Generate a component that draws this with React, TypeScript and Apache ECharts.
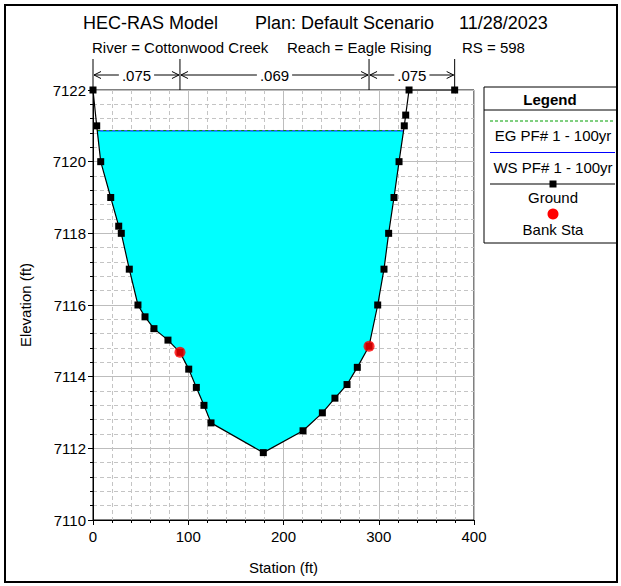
import React, { useEffect, useRef } from "react";
import * as echarts from "echarts";

// ---- data ----
const groundStation = [0, 3.9, 8.1, 18.6, 27, 29.7, 38.1, 47.2, 54.6, 64, 78.7, 91.3, 100.5, 108.5, 116.5, 123.9, 178.8, 220.5, 240.8, 254, 266.7, 277.5, 289.8, 298.9, 305.5, 310.4, 316, 321.3, 326.8, 328.3, 331.8, 379.7];
const groundElev = [7122, 7121, 7120, 7119, 7118.2, 7118, 7117, 7116, 7115.67, 7115.34, 7115.02, 7114.68, 7114.21, 7113.7, 7113.2, 7112.71, 7111.88, 7112.49, 7112.99, 7113.4, 7113.78, 7114.26, 7114.85, 7116, 7117, 7118, 7119, 7120, 7121, 7121.3, 7122, 7122];
const bankStation = [91.3, 289.8];
const bankElev = [7114.68, 7114.85];
const wsElev = 7120.86;
const egElev = 7120.87;
const nBreaks = [0, 91.3, 289.8, 379.7];
const nValues = [".075", ".069", ".075"];
const xTicks = { min: 0, max: 400, interval: 100 };
const yTicks = { min: 7110, max: 7122, interval: 2 };

const FONT = "'Liberation Sans', Arial, Helvetica, sans-serif";

function waterPolygon(level: number): number[][] {
  const pts: number[][] = [];
  const n = groundStation.length;
  let started = false;
  for (let i = 0; i < n - 1; i++) {
    const x1 = groundStation[i], y1 = groundElev[i];
    const x2 = groundStation[i + 1], y2 = groundElev[i + 1];
    if (!started && y1 >= level && y2 < level) {
      pts.push([x1 + ((y1 - level) / (y1 - y2)) * (x2 - x1), level]);
      started = true;
    }
    if (started && y2 < level) pts.push([x2, y2]);
    if (started && y1 < level && y2 >= level) {
      pts.push([x1 + ((level - y1) / (y2 - y1)) * (x2 - x1), level]);
      break;
    }
  }
  return pts;
}

export default function App() {
  const ref = useRef<HTMLDivElement>(null);
  useEffect(() => {
    document.body.style.margin = "0";
    const chart = echarts.init(ref.current!, null, { renderer: "svg" });
    const poly = waterPolygon(wsElev);
    const wl = poly[0][0];
    const wr = poly[poly.length - 1][0];
    const ground = groundStation.map((x, i) => [x, groundElev[i]]);
    const banks = bankStation.map((x, i) => [x, bankElev[i]]);

    const axisCommon = {
      axisLine: { show: true, lineStyle: { color: "#000", width: 1 } },
      axisTick: { show: true, length: 5, lineStyle: { color: "#000" } },
      minorTick: { show: true, splitNumber: 5, length: 3, lineStyle: { color: "#000" } },
      splitLine: { show: true, lineStyle: { color: "#bdbdbd", width: 1 } },
      minorSplitLine: { show: true, lineStyle: { color: "#c4c4c4", type: [4, 3], width: 1 } },
      nameTextStyle: { color: "#000", fontSize: 15, fontFamily: FONT },
    };
    const labelStyle = { color: "#000", fontSize: 15, fontFamily: FONT, formatter: (v: number) => String(v) };

    chart.setOption({
      animation: false,
      backgroundColor: "#fff",
      grid: { left: 93, right: 147, top: 90, bottom: 66, show: true, borderColor: "#000", borderWidth: 1 },
      xAxis: {
        type: "value",
        ...xTicks,
        name: "Station (ft)",
        nameLocation: "middle",
        nameGap: 40,
        ...axisCommon,
        axisLabel: { ...labelStyle, margin: 9 },
      },
      yAxis: {
        type: "value",
        ...yTicks,
        name: "Elevation (ft)",
        nameLocation: "middle",
        nameGap: 60,
        ...axisCommon,
        axisLabel: { ...labelStyle, margin: 7 },
      },
      series: [
        {
          type: "custom",
          name: "water",
          silent: true,
          z: 1,
          data: [[0, yTicks.min]],
          renderItem: (_params: any, api: any) => ({
            type: "polygon",
            shape: { points: poly.map((p) => api.coord(p)) },
            style: { fill: "#00FFFF" },
          }),
        },
        {
          type: "line",
          name: "WS PF# 1 - 100yr",
          data: [[wl, wsElev], [wr, wsElev]],
          symbol: "none",
          lineStyle: { color: "#0000FF", width: 1 },
          z: 2,
          silent: true,
        },
        {
          type: "line",
          name: "EG PF# 1 - 100yr",
          data: [[wl, egElev], [wr, egElev]],
          symbol: "none",
          lineStyle: { color: "#00A000", width: 1, type: [3, 3] },
          z: 2,
          silent: true,
        },
        {
          type: "line",
          name: "Ground",
          data: ground,
          symbol: "rect",
          symbolSize: 7,
          itemStyle: { color: "#000" },
          lineStyle: { color: "#000", width: 1.2 },
          z: 3,
          silent: true,
        },
        {
          type: "scatter",
          name: "Bank Sta",
          data: banks,
          symbol: "circle",
          symbolSize: 11,
          itemStyle: { color: "#FF0000" },
          z: 4,
          silent: true,
        },
      ],
    });

    // annotations above plot
    const top = (chart.convertToPixel({ gridIndex: 0 }, [0, yTicks.max]) as number[])[1];
    const px = nBreaks.map((s) => (chart.convertToPixel({ gridIndex: 0 }, [s, yTicks.max]) as number[])[0]);
    const ctx = document.createElement("canvas").getContext("2d")!;
    ctx.font = "15px " + FONT;
    const ay = top - 15;
    const g: any[] = [];
    px.forEach((x) => {
      g.push({ type: "line", shape: { x1: x, y1: top - 31, x2: x, y2: top }, style: { stroke: "#000", lineWidth: 1 } });
    });
    nValues.forEach((v, i) => {
      const xa = px[i], xb = px[i + 1];
      const mid = (xa + xb) / 2;
      const tw = ctx.measureText(v).width;
      g.push({ type: "text", x: mid, y: ay, style: { text: v, fontSize: 15, fontFamily: FONT, fill: "#000", align: "center", verticalAlign: "middle" } });
      g.push({ type: "line", shape: { x1: xa + 1, y1: ay, x2: mid - tw / 2 - 3, y2: ay }, style: { stroke: "#000", lineWidth: 1 } });
      g.push({ type: "line", shape: { x1: mid + tw / 2 + 3, y1: ay, x2: xb - 1, y2: ay }, style: { stroke: "#000", lineWidth: 1 } });
      g.push({ type: "polyline", shape: { points: [[xa + 8, ay - 3.5], [xa + 1, ay], [xa + 8, ay + 3.5]] }, style: { stroke: "#000", lineWidth: 1, fill: "none" } });
      g.push({ type: "polyline", shape: { points: [[xb - 8, ay - 3.5], [xb - 1, ay], [xb - 8, ay + 3.5]] }, style: { stroke: "#000", lineWidth: 1, fill: "none" } });
    });

    const txt = (text: string, x: number, y: number, size: number, align = "left", weight = "normal") => ({
      type: "text",
      x,
      y,
      style: { text, fontSize: size, fontFamily: FONT, fill: "#000", align, verticalAlign: "middle", fontWeight: weight },
    });

    // titles
    g.push(txt("HEC-RAS Model", 83, 23, 18));
    g.push(txt("Plan: Default Scenario", 255, 23, 18));
    g.push(txt("11/28/2023", 459, 23, 18));
    g.push(txt("River = Cottonwood Creek", 92, 47, 15));
    g.push(txt("Reach = Eagle Rising", 287, 47, 15));
    g.push(txt("RS = 598", 462, 47, 15));

    // legend
    const lx = 484, lr = 617, lcx = 553;
    g.push({ type: "rect", shape: { x: lx, y: 87, width: lr - lx, height: 156 }, style: { fill: "#fff", stroke: "#000", lineWidth: 1 } });
    g.push({ type: "line", shape: { x1: lx, y1: 110, x2: lr, y2: 110 }, style: { stroke: "#000", lineWidth: 1 } });
    g.push(txt("Legend", lcx - 3, 99, 15, "center", "bold"));
    g.push({ type: "line", shape: { x1: 490, y1: 121, x2: 615, y2: 121 }, style: { stroke: "#00A000", lineWidth: 1, lineDash: [3, 2] } });
    g.push(txt("EG PF# 1 - 100yr", lcx, 135, 15, "center"));
    g.push({ type: "line", shape: { x1: 490, y1: 152.5, x2: 615, y2: 152.5 }, style: { stroke: "#0000FF", lineWidth: 1 } });
    g.push(txt("WS PF# 1 - 100yr", lcx, 167, 15, "center"));
    g.push({ type: "line", shape: { x1: 490, y1: 184, x2: 615, y2: 184 }, style: { stroke: "#000", lineWidth: 1.2 } });
    g.push({ type: "rect", shape: { x: lcx - 3.5, y: 180.5, width: 7, height: 7 }, style: { fill: "#000" } });
    g.push(txt("Ground", lcx, 197, 15, "center"));
    g.push({ type: "circle", shape: { cx: lcx, cy: 214, r: 5.5 }, style: { fill: "#FF0000" } });
    g.push(txt("Bank Sta", lcx, 229, 15, "center"));

    // outer frame
    g.push({ type: "rect", shape: { x: 5, y: 5, width: 612, height: 577 }, style: { fill: "none", stroke: "#000", lineWidth: 2 } });

    chart.setOption({ graphic: g });
    return () => chart.dispose();
  }, []);
  return <div ref={ref} style={{ width: 621, height: 586 }} />;
}
